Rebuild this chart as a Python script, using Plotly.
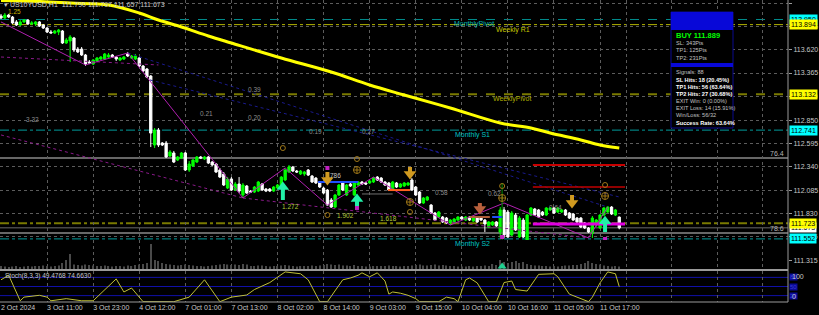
import plotly.graph_objects as go

# ---------------- data ----------------
label_idx = [0, 12, 24, 36, 48, 60, 72, 84, 96, 108, 120, 132, 144, 156]
label_text = ["2 Oct 2024", "3 Oct 11:00", "3 Oct 23:00", "4 Oct 12:00", "7 Oct 01:00",
              "7 Oct 13:00", "8 Oct 02:00", "8 Oct 14:00", "9 Oct 03:00", "9 Oct 15:00",
              "10 Oct 04:00", "10 Oct 16:00", "11 Oct 05:00", "11 Oct 17:00"]
future_grid_idx = [162.8, 174.7, 186.5, 198.4]
price_ticks = [114.130, 113.875, 113.620, 113.365, 113.110, 112.850, 112.595,
               112.340, 112.085, 111.830, 111.575, 111.315]

open_ = [
113.988,113.966,113.999,113.977,113.923,113.890,113.923,113.944,113.901,113.901,
113.923,113.890,113.857,113.813,113.802,113.813,113.824,113.693,113.715,113.748,
113.627,113.627,113.562,113.485,113.463,113.496,113.518,113.518,113.540,113.562,
113.540,113.507,113.518,113.573,113.529,113.518,113.529,113.442,113.409,113.332,
112.578,112.742,112.600,112.600,112.458,112.491,112.414,112.436,112.491,112.305,
112.349,112.392,112.447,112.425,112.447,112.392,112.370,112.305,112.261,112.108,
112.207,112.086,112.152,112.032,112.130,112.075,112.064,112.075,112.152,112.097,
112.097,112.075,112.108,112.119,112.196,112.283,112.338,112.294,112.261,112.261,
112.305,112.239,112.217,112.174,112.108,112.086,111.977,111.900,112.032,112.163,
112.032,112.152,112.032,112.141,112.174,112.163,112.163,112.174,112.228,112.217,
112.174,112.163,112.086,112.163,112.119,112.130,112.141,112.196,112.119,112.064,
111.944,111.977,111.922,111.835,111.791,111.791,111.780,111.726,111.737,111.758,
111.791,111.758,111.791,111.747,111.780,111.780,111.758,111.682,111.704,111.737,
111.627,111.868,111.846,111.594,111.813,111.573,111.758,111.540,111.813,111.879,
111.868,111.846,111.813,111.868,111.890,111.846,111.846,111.868,111.835,111.824,
111.780,111.780,111.726,111.671,111.616,111.704,111.671,111.813,111.846,111.900,
111.813,111.790]
high = [
114.010,114.021,114.010,113.988,113.944,113.944,113.955,113.955,113.933,113.933,
113.933,113.901,113.868,113.835,113.835,113.846,113.835,113.748,113.780,113.759,
113.649,113.649,113.573,113.507,113.518,113.540,113.551,113.584,113.584,113.573,
113.551,113.540,113.551,113.595,113.562,113.573,113.540,113.453,113.420,113.343,
112.764,112.764,112.611,112.622,112.523,112.513,112.458,112.502,112.502,112.403,
112.425,112.458,112.458,112.458,112.458,112.403,112.381,112.327,112.283,112.228,
112.228,112.174,112.228,112.163,112.141,112.086,112.130,112.185,112.163,112.108,
112.108,112.130,112.152,112.239,112.316,112.360,112.349,112.305,112.305,112.294,
112.316,112.250,112.228,112.185,112.119,112.097,111.999,112.043,112.152,112.174,
112.152,112.163,112.174,112.185,112.185,112.174,112.196,112.228,112.239,112.228,
112.185,112.174,112.185,112.174,112.163,112.174,112.174,112.217,112.130,112.075,
112.010,112.021,111.933,111.846,111.857,111.802,111.791,111.769,111.780,111.802,
111.802,111.802,111.802,111.791,111.791,111.791,111.769,111.747,111.747,111.747,
111.900,111.900,111.868,111.857,111.835,111.802,111.780,111.824,111.900,111.890,
111.879,111.857,111.900,111.900,111.900,111.900,111.879,111.879,111.846,111.835,
111.791,111.791,111.737,111.682,111.802,111.769,111.824,111.900,111.911,111.911,
111.879,111.797]
low = [
113.955,113.955,113.966,113.901,113.879,113.879,113.912,113.890,113.890,113.879,
113.868,113.846,113.802,113.802,113.791,113.780,113.682,113.682,113.485,113.595,
113.584,113.551,113.442,113.463,113.453,113.485,113.507,113.507,113.529,113.529,
113.496,113.496,113.507,113.540,113.518,113.507,113.431,113.376,113.310,112.556,
112.545,112.556,112.567,112.436,112.447,112.381,112.403,112.425,112.294,112.283,
112.338,112.381,112.425,112.414,112.370,112.349,112.272,112.217,112.130,112.097,
112.075,112.075,112.053,111.999,112.043,112.053,112.053,112.064,112.075,112.064,
112.064,112.064,112.097,112.108,112.185,112.272,112.283,112.272,112.250,112.239,
112.239,112.163,112.152,112.108,112.043,111.911,111.890,111.890,112.021,112.075,
112.021,112.119,112.021,112.130,112.141,112.141,112.152,112.163,112.185,112.163,
112.130,112.075,112.075,112.108,112.108,112.119,112.130,112.075,112.021,111.933,
111.933,111.966,111.824,111.747,111.780,111.726,111.715,111.704,111.726,111.747,
111.758,111.747,111.747,111.737,111.726,111.747,111.627,111.671,111.693,111.682,
111.562,111.562,111.562,111.584,111.638,111.562,111.562,111.485,111.802,111.802,
111.780,111.802,111.802,111.857,111.824,111.835,111.835,111.802,111.769,111.747,
111.726,111.671,111.660,111.616,111.562,111.682,111.660,111.802,111.835,111.813,
111.802,111.657]
close = [
113.966,113.999,113.977,113.912,113.890,113.923,113.944,113.901,113.912,113.923,
113.879,113.857,113.813,113.802,113.824,113.835,113.693,113.726,113.759,113.616,
113.595,113.562,113.463,113.474,113.507,113.529,113.540,113.573,113.562,113.540,
113.518,113.529,113.540,113.551,113.551,113.551,113.442,113.387,113.321,112.709,
112.742,112.578,112.578,112.447,112.502,112.392,112.447,112.491,112.305,112.370,
112.414,112.447,112.436,112.447,112.381,112.360,112.283,112.228,112.141,112.207,
112.086,112.152,112.075,112.141,112.053,112.064,112.119,112.174,112.086,112.075,
112.075,112.119,112.141,112.228,112.305,112.338,112.294,112.283,112.294,112.283,
112.250,112.174,112.163,112.119,112.053,111.922,111.900,112.032,112.141,112.086,
112.141,112.130,112.163,112.174,112.152,112.152,112.185,112.217,112.196,112.174,
112.141,112.086,112.174,112.119,112.152,112.163,112.163,112.086,112.032,111.944,
111.999,112.010,111.835,111.758,111.846,111.737,111.726,111.758,111.769,111.791,
111.769,111.791,111.758,111.780,111.737,111.758,111.715,111.737,111.737,111.693,
111.868,111.594,111.573,111.835,111.649,111.780,111.573,111.813,111.890,111.813,
111.791,111.813,111.890,111.890,111.835,111.890,111.868,111.813,111.780,111.758,
111.737,111.682,111.671,111.627,111.780,111.758,111.813,111.890,111.900,111.824,
111.868,111.673]
volume = [
300,250,200,250,300,200,250,300,250,300,
300,350,300,250,300,350,600,900,1500,450,
400,350,450,400,350,300,300,350,300,250,
300,300,250,350,300,400,450,500,600,2500,
900,800,600,500,450,400,350,400,450,400,
350,300,300,250,300,350,400,450,500,450,
400,450,400,500,450,300,300,350,350,300,
250,300,300,350,400,350,300,250,300,300,
300,350,300,350,400,500,450,400,450,350,
350,300,400,300,300,250,250,300,300,300,
300,350,300,300,250,300,300,350,400,450,
350,350,400,450,350,400,350,300,300,250,
250,250,300,250,300,300,350,300,500,400,
900,700,600,700,800,600,700,500,400,350,
350,300,300,250,300,250,300,350,350,400,
400,500,600,800,600,500,450,350,300,250,
300,250]
bar_idx = list(range(len(close)))

ma_idx = [0, 10, 18, 28, 36, 41, 47, 54, 60, 73, 86, 96, 105, 117, 130, 138, 143, 151, 156, 161]
ma_val = [114.158, 114.147, 114.130, 114.108, 114.021, 113.944, 113.868, 113.770, 113.693,
          113.529, 113.376, 113.234, 113.125, 112.983, 112.819, 112.764, 112.709, 112.633,
          112.578, 112.545]

zigzag_idx = [0, 22, 33, 63, 74, 85, 97, 117, 131, 153, 158]
zigzag_val = [113.923, 113.453, 113.584, 111.999, 112.327, 111.922, 112.228, 111.704,
              111.944, 111.562, 111.900]

stoch_idx = [0, 2, 5, 6, 10, 12, 13, 17, 21, 24, 30, 32, 34, 37, 45, 49, 53, 57, 60, 64,
             66, 68, 70, 74, 78, 80, 83, 85, 89, 91, 93, 94, 96, 98, 100, 101, 102, 104,
             106, 108, 109, 114, 116, 118, 119, 121, 122, 124, 126, 127, 129, 131, 133,
             134, 137, 140, 144, 145, 148, 151, 153, 154, 156, 158, 160, 161]
stoch_val = [72, 87, 3, 15, 21, 15, 3, 10, 3, 3, 75, 32, 45, 0, 0, 15, 72, 0, 15, 22,
             40, 52, 63, 98, 92, 72, 0, 0, 72, 78, 87, 95, 82, 95, 68, 25, 32, 28,
             21, 10, 0, 0, 15, 10, 0, 72, 78, 62, 22, 0, 0, 63, 68,
             40, 35, 90, 92, 82, 25, 10, 0, 15, 62, 98, 92, 49.48]
stoch_levels = [80, 50, 20]

pivot_names = ["MonthlyPivot", "Weekly R1", "WeeklyPivot", "Monthly S1", "", "Monthly S2"]
pivot_vals = [113.950, 113.894, 113.132, 112.741, 111.723, 111.552]
fib_names = ["76.4", "78.6"]
fib_vals = [112.436, 111.616]
bid_price = 111.673

trend_i0 = [33, 38.8, 0, 63, 0]
trend_p0 = [113.584, 113.289, 112.688, 111.999, 113.540]
trend_i1 = [158, 161, 63, 153, 41]
trend_p1 = [111.900, 112.010, 111.999, 111.562, 113.453]

seg_i0 = [138.5, 138.5, 138.5, 138.5, 82.6, 100.8, 122.0, 127.9, 94.0]
seg_i1 = [162.5, 162.5, 162.5, 162.5, 93.0, 106.5, 127.3, 130.7, 102.0]
seg_p = [112.360, 112.119, 111.715, 111.463, 112.174, 112.086, 111.791, 111.791, 112.043]

up_idx = [73.4, 92.7, 157.3]
up_tip = [112.163, 112.032, 111.791]
up_tail = [111.977, 111.889, 111.627]
dn_idx = [85.0, 106.5, 148.7]
dn_tip = [112.152, 112.217, 111.900]
dn_tail = [112.283, 112.338, 112.032]
dn2_idx = [124.7]
dn2_tip = [111.835]
dn2_tail = [111.944]

sq_idx = [85.0, 92.7, 157.3, 130.5]
sq_p = [112.327, 111.890, 111.551, 111.573]
circ_idx = [73.4, 85.0, 92.7, 106.5, 130.5, 157.3, 148.7]
circ_p = [112.545, 111.813, 112.425, 111.846, 112.130, 112.141, 111.365]
circx_idx = [92.7, 106.5, 130.5, 157.3]
circx_p = [112.305, 111.955, 111.999, 112.021]

signal_idx = 130.5
signal_top = 112.163
signal_bottom = 111.245

lbl_text = ["1.25", "3.32", "0.39", "0.21", "0.20", "0.19", "0.27", "0.58", "0.62",
            "0.64", "1.272", "786", "1.902", "1.618"]
lbl_idx = [3.4, 8.1, 65.9, 53.6, 66.0, 82.0, 95.8, 114.8, 128.6, 144.5, 75.3, 87.2, 89.8, 101.0]
lbl_p = [114.032, 112.852, 113.189, 112.924, 112.880, 112.731, 112.731, 112.061, 112.043,
         111.890, 111.911, 112.250, 111.813, 111.777]

box_vals = [113.950, 113.894, 113.132, 112.741, 111.673, 111.723, 111.552]
box_kind = ["m", "w", "w", "m", "bid", "w", "m"]

panel_lines = [("BUY 111.889", "buy"), ("SL: 343Pts", "n"), ("TP1: 125Pts", "n"),
               ("TP2: 231Pts", "n"), ("Signals: 88", "n"), ("SL Hits: 18 (20.45%)", "b"),
               ("TP1 Hits: 56 (63.64%)", "b"), ("TP2 Hits: 27 (30.68%)", "b"),
               ("EXIT Win: 0 (0.00%)", "n"), ("EXIT Loss: 14 (15.91%)", "n"),
               ("Win/Loss: 56/32", "n"), ("Success Rate: 63.64%", "b")]

title_text = "US10YUSD,H1  111.790 111.797 111.657 111.673"
stoch_title = "Stoch(8,3,3) 49.4768 74.6630"

# ---------------- geometry / styles ----------------
FONT = "Liberation Sans, Arial, sans-serif"
W, H = 819, 315
ML, MR, MT, MB = 0, 31, 0, 13
PW, PH = W - ML - MR, H - MT - MB
XMIN, XMAX = -0.26, 204.94
MAIN_DOM = [1 - 269 / PH, 1]
STO_DOM = [0, 1 - 271 / PH]
VOL_DOM = [1 - 269 / PH, 1 - 240 / PH]
YMIN, YMAX = 111.223, 114.163

def px(xpix):
    return xpix / PW

def py(ypix):
    return 1 - ypix / PH

fig = go.Figure()

# trend lines (dotted diagonals)
trend_cols = ["#1a1a8c", "#1a1a8c", "#8a1a8a", "#8a1a8a", "#8a1a8a"]
for a, b, c, d, col in zip(trend_i0, trend_p0, trend_i1, trend_p1, trend_cols):
    fig.add_trace(go.Scatter(x=[a, c], y=[b, d], mode="lines",
                             line=dict(color=col, width=1, dash="dot"), hoverinfo="skip"))

# moving average
fig.add_trace(go.Scatter(x=ma_idx, y=ma_val, mode="lines", line_shape="spline",
                         line=dict(color="#ffff00", width=3), hoverinfo="skip"))

# zigzag
fig.add_trace(go.Scatter(x=zigzag_idx, y=zigzag_val, mode="lines",
                         line=dict(color="#b020b0", width=1), hoverinfo="skip"))

# horizontal signal segments
seg_cols = ["#c80000", "#c00000", "#e000e0", "#008c00", "#2050ff", "#ff6020", "#b0603c", "#2050ff", "#707070"]
seg_w = [2, 1.5, 3, 1.5, 2, 2, 2, 2, 1]
for a, b, p, col, w in zip(seg_i0, seg_i1, seg_p, seg_cols, seg_w):
    fig.add_trace(go.Scatter(x=[a, b], y=[p, p], mode="lines",
                             line=dict(color=col, width=w), hoverinfo="skip"))

# signal vertical line
fig.add_trace(go.Scatter(x=[signal_idx, signal_idx], y=[signal_bottom, signal_top], mode="lines",
                         line=dict(color="#008c00", width=1), hoverinfo="skip"))

# volume
fig.add_trace(go.Bar(x=bar_idx, y=volume, yaxis="y3", marker_color="#4a4a4a",
                     marker_line_width=0, width=0.3, hoverinfo="skip"))
fig.add_trace(go.Scatter(x=[signal_idx], y=[250], yaxis="y3", mode="markers",
                         marker=dict(symbol="triangle-up", size=8, color="#20d090"), hoverinfo="skip"))

# candles
fig.add_trace(go.Candlestick(
    x=bar_idx, open=open_, high=high, low=low, close=close,
    increasing=dict(line=dict(color="#00ff00", width=1), fillcolor="#00ff00"),
    decreasing=dict(line=dict(color="#ffffff", width=1), fillcolor="#ffffff"),
    whiskerwidth=0, hoverinfo="skip"))

# arrows
def add_arrows(idx, tip, tail, col, up):
    sx, sy, hy = [], [], []
    for i, t, b in zip(idx, tip, tail):
        off = -0.06 if up else 0.06
        sx += [i, i, None]
        sy += [b, t + off, None]
        hy.append(t + (-0.045 if up else 0.045))
    fig.add_trace(go.Scatter(x=sx, y=sy, mode="lines", line=dict(color=col, width=4),
                             hoverinfo="skip"))
    fig.add_trace(go.Scatter(x=idx, y=hy, mode="markers",
                             marker=dict(symbol="triangle-up" if up else "triangle-down",
                                         size=11, color=col), hoverinfo="skip"))

add_arrows(up_idx, up_tip, up_tail, "#22f0a8", True)
add_arrows(dn_idx, dn_tip, dn_tail, "#d09a20", False)
add_arrows(dn2_idx, dn2_tip, dn2_tail, "#b8603c", False)

fig.add_trace(go.Scatter(x=sq_idx, y=sq_p, mode="markers",
                         marker=dict(symbol="square", size=4, color="#c020c0"), hoverinfo="skip"))
fig.add_trace(go.Scatter(x=circ_idx, y=circ_p, mode="markers",
                         marker=dict(symbol="circle-open", size=5, color="#a07818", line=dict(width=1)),
                         hoverinfo="skip"))
fig.add_trace(go.Scatter(x=circx_idx, y=circx_p, mode="markers",
                         marker=dict(symbol="circle-cross-open", size=7, color="#a07818", line=dict(width=1)),
                         hoverinfo="skip"))

# stochastic
fig.add_trace(go.Scatter(x=stoch_idx, y=stoch_val, yaxis="y2", mode="lines",
                         line=dict(color="#c0c038", width=1), hoverinfo="skip"))

shapes = []
# stoch levels
for lv in stoch_levels:
    shapes.append(dict(type="line", xref="paper", yref="y2", x0=0, x1=1, y0=lv, y1=lv,
                       line=dict(color="#1010a8", width=1), layer="below"))
# pivot lines
piv_styles = [("#008c8c", "dash", 1), ("#b4b400", "dashdot", 1), ("#7a7a00", "dash", 2),
              ("#009c9c", "dashdot", 1), ("#7a7a00", "dashdot", 2), ("#009c9c", "dashdot", 1)]
for v, (col, dash, w) in zip(pivot_vals, piv_styles):
    shapes.append(dict(type="line", xref="paper", yref="y", x0=0, x1=1, y0=v, y1=v,
                       line=dict(color=col, width=w, dash=dash), layer="below"))
for v in fib_vals:
    shapes.append(dict(type="line", xref="paper", yref="y", x0=0, x1=1, y0=v, y1=v,
                       line=dict(color="#8a8a8a", width=1.5), layer="below"))
shapes.append(dict(type="line", xref="paper", yref="y", x0=0, x1=1, y0=bid_price, y1=bid_price,
                   line=dict(color="#6a6a6a", width=1), layer="below"))
# panel separators / borders
shapes.append(dict(type="line", xref="paper", yref="paper", x0=0, x1=1, y0=py(270), y1=py(270),
                   line=dict(color="#9a9a9a", width=2)))
shapes.append(dict(type="line", xref="paper", yref="paper", x0=0, x1=1, y0=0, y1=0,
                   line=dict(color="#9a9a9a", width=1)))
shapes.append(dict(type="line", xref="paper", yref="paper", x0=1, x1=1, y0=0, y1=1,
                   line=dict(color="#9a9a9a", width=1)))
# info panel
shapes.append(dict(type="rect", xref="paper", yref="paper", x0=px(671), x1=px(733),
                   y0=py(128), y1=py(12), fillcolor="#000000", line=dict(color="#0a0a90", width=1)))
shapes.append(dict(type="rect", xref="paper", yref="paper", x0=px(671), x1=px(733),
                   y0=py(30), y1=py(12), fillcolor="#0808d8", line=dict(width=0)))
shapes.append(dict(type="rect", xref="paper", yref="paper", x0=px(671), x1=px(733),
                   y0=py(67), y1=py(63), fillcolor="#0808d8", line=dict(width=0)))

ann = []
small = dict(family=FONT, size=7, color="#c8c8c8")
ann.append(dict(xref="paper", yref="paper", x=px(2), y=py(5), xanchor="left", yanchor="middle",
                text="▾ " + title_text, showarrow=False, font=small))
ann.append(dict(xref="paper", yref="paper", x=px(3), y=py(275.5), xanchor="left", yanchor="middle",
                text=stoch_title, showarrow=False, font=dict(family=FONT, size=6.5, color="#c8c8c8")))

# pivot text labels
piv_lbl_x = [117.5, 128.5, 127.5, 117.8, None, 117.8]
piv_lbl_col = ["#00b4b4", "#c8c800", "#b0b000", "#00c4c4", None, "#00c4c4"]
for name, v, xi, col in zip(pivot_names, pivot_vals, piv_lbl_x, piv_lbl_col):
    if not name:
        continue
    ann.append(dict(xref="x", yref="y", x=xi, y=v, xanchor="left", yanchor="top", yshift=1,
                    text=name, showarrow=False, font=dict(family=FONT, size=7, color=col)))
for name, v in zip(fib_names, fib_vals):
    ann.append(dict(xref="paper", yref="y", x=px(786), y=v, xanchor="right", yanchor="bottom",
                    yshift=-1, text=name, showarrow=False, font=dict(family=FONT, size=7, color="#b4b4b4")))

lbl_cols = ["#c8b400"] + ["#8c8c8c"] * 9 + ["#b4c83c", "#c8c8c8", "#b4c83c", "#b4c83c"]
for t, xi, p, col in zip(lbl_text, lbl_idx, lbl_p, lbl_cols):
    ann.append(dict(xref="x", yref="y", x=xi, y=p, text=t, showarrow=False,
                    font=dict(family=FONT, size=6.5, color=col)))

# right-hand price boxes
box_bg = {"m": "#00ffff", "w": "#ffff00", "bid": "#ffffff"}
for v, k in zip(box_vals, box_kind):
    ann.append(dict(xref="paper", yref="y", x=1, xshift=1, y=v, xanchor="left", yanchor="middle",
                    text=f"{v:.3f}", showarrow=False, bgcolor=box_bg[k], borderpad=1,
                    font=dict(family=FONT, size=7, color="#000000")))
# stoch scale boxes
for lv in stoch_levels:
    ann.append(dict(xref="paper", yref="y2", x=1, xshift=1, y=lv, xanchor="left", yanchor="middle",
                    text=str(lv), showarrow=False, bgcolor="#0a0a96", borderpad=0,
                    font=dict(family=FONT, size=6, color="#3a3ad0")))
ann.append(dict(xref="paper", yref="y2", x=1, xshift=2, y=100, xanchor="left", yanchor="top",
                text="100", showarrow=False, font=dict(family=FONT, size=7, color="#c8c8c8")))
ann.append(dict(xref="paper", yref="y2", x=1, xshift=2, y=0, xanchor="left", yanchor="bottom",
                text="0", showarrow=False, font=dict(family=FONT, size=7, color="#c8c8c8")))

# info panel text
panel_y = [35, 43, 50, 58, 72, 80, 87, 94, 101, 108, 115, 123]
for (t, kind), yy in zip(panel_lines, panel_y):
    if kind == "buy":
        f = dict(family=FONT, size=7.5, color="#00ff00")
        t = "<b>" + t + "</b>"
    elif kind == "b":
        f = dict(family=FONT, size=5.6, color="#ffffff")
        t = "<b>" + t + "</b>"
    else:
        f = dict(family=FONT, size=5.6, color="#c0c0c0")
    ann.append(dict(xref="paper", yref="paper", x=px(674), y=py(yy), xanchor="left",
                    yanchor="middle", text=t, showarrow=False, font=f))

gridc = "#5c5c5c"
fig.update_layout(
    width=W, height=H, margin=dict(l=ML, r=MR, t=MT, b=MB, autoexpand=False),
    paper_bgcolor="#000000", plot_bgcolor="#000000", showlegend=False,
    shapes=shapes, annotations=ann, hovermode=False, boxgap=0.15,
    xaxis=dict(domain=[0, 1], range=[XMIN, XMAX], anchor="y2", automargin=False,
               tickvals=label_idx + future_grid_idx, ticktext=label_text + [""] * len(future_grid_idx),
               ticklabelposition="outside right", tickangle=0, ticks="", showgrid=True,
               gridcolor=gridc, griddash="dot", gridwidth=1, zeroline=False, showline=False,
               tickfont=dict(family=FONT, size=7, color="#c8c8c8"),
               rangeslider=dict(visible=False)),
    yaxis=dict(domain=MAIN_DOM, range=[YMIN, YMAX], side="right", anchor="x", automargin=False,
               tickvals=price_ticks, ticktext=[f"{v:.3f}" for v in price_ticks],
               ticks="outside", ticklen=3, tickcolor="#9a9a9a",
               showgrid=True, gridcolor=gridc, griddash="dot", zeroline=False, showline=False,
               tickfont=dict(family=FONT, size=7, color="#c8c8c8")),
    yaxis2=dict(domain=STO_DOM, range=[-1, 101], anchor="x", showgrid=False, zeroline=False,
                showticklabels=False, ticks="", automargin=False),
    yaxis3=dict(domain=VOL_DOM, range=[0, 2900], anchor="x", showgrid=False, zeroline=False,
                showticklabels=False, ticks="", automargin=False),
)

fig.write_html("out.html")
